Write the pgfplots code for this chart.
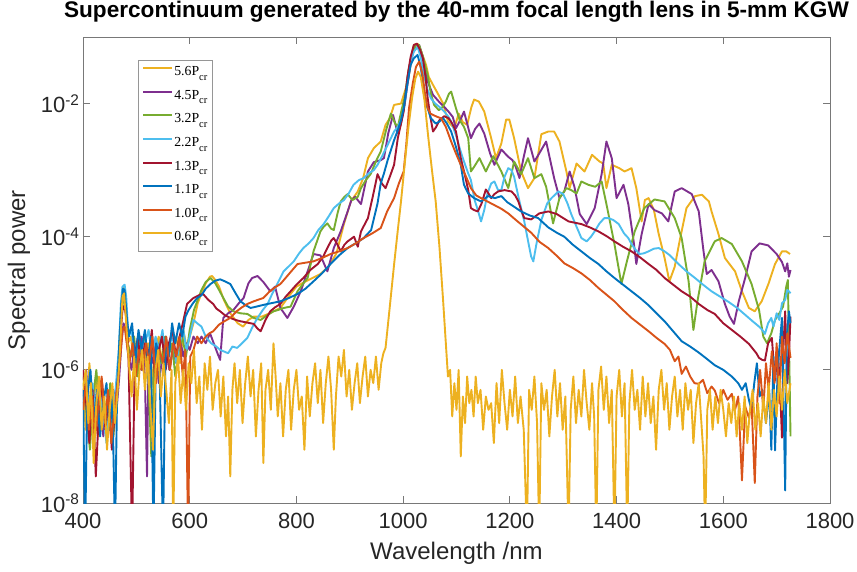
\documentclass[border=0pt]{standalone}
\usepackage{fontspec}
\setmainfont{Liberation Sans}
\newfontfamily\legendfont{Liberation Serif}
\usepackage{pgfplots}
\pgfplotsset{compat=1.18}
\definecolor{cA}{RGB}{237,177,32}
\definecolor{cB}{RGB}{126,47,142}
\definecolor{cC}{RGB}{119,172,48}
\definecolor{cD}{RGB}{77,190,238}
\definecolor{cE}{RGB}{162,20,47}
\definecolor{cF}{RGB}{0,114,189}
\definecolor{cG}{RGB}{217,83,25}
\definecolor{axc}{RGB}{38,38,38}
\definecolor{boxc}{RGB}{120,120,120}
\newcommand{\Pcr}[1]{#1P\raisebox{-4.5bp}{\fontsize{10.5bp}{11bp}\selectfont cr}}
\begin{document}
\begin{tikzpicture}
\begin{axis}[
  at={(0,0)}, anchor=south west,
  scale only axis, width=747bp, height=466bp,
  xmin=400, xmax=1800, ymin=1e-8, ymax=1e-1, ymode=log,
  xtick={400,600,800,1000,1200,1400,1600,1800},
  xticklabels={400,600,800,1000,1200,1400,1600,1800},
  ytick={1e-8,1e-6,1e-4,1e-2},
  yticklabels={10\textsuperscript{-8},10\textsuperscript{-6},10\textsuperscript{-4},10\textsuperscript{-2}},
  yminorticks=false, xminorticks=false,
  tick align=inside, major tick length=7.5bp,
  xtick pos=both, ytick pos=both,
  axis line style={draw=boxc, line width=0.9bp},
  tick style={draw=boxc, line width=0.9bp},
  tick label style={font=\fontsize{22bp}{26bp}\selectfont, text=axc},
  xticklabel style={yshift=-7bp},
  title={Supercontinuum generated by the 40-mm focal length lens in 5-mm KGW},
  title style={at={(axis description cs:0.5,1)}, anchor=base, yshift=13.5bp, font=\bfseries\fontsize{22.6bp}{26bp}\selectfont},
  xlabel={Wavelength /nm},
  ylabel={Spectral power},
  xlabel style={at={(axis description cs:0.5,-0.1073)}, anchor=center, font=\fontsize{24bp}{28bp}\selectfont, text=axc},
  ylabel style={at={(axis description cs:-0.0857,0.5)}, anchor=center, font=\fontsize{24bp}{28bp}\selectfont, text=axc},
  every axis plot/.append style={line width=1.9bp, line join=round, no markers},
  legend style={at={(axis description cs:0.0736,0.9506)}, anchor=north west,
    draw={rgb,255:red,150;green,150;blue,150}, line width=0.8bp, fill=white,
    font=\legendfont\fontsize{13.8bp}{15bp}\selectfont,
    inner xsep=4bp, inner ysep=1bp, row sep=0pt,
    nodes={inner xsep=1bp, inner ysep=3.3bp, text height=11bp, text depth=6bp}},
  legend cell align=left,
  legend image code/.code={\draw[#1] (0bp,5bp) -- (29bp,5bp);},
]
% 5.6 Pcr
\addplot[cA] table[x=x, y expr={10^(\thisrow{ly})}] {
x ly
400 -6.2
405 -6.9
412 -5.9
418 -6.6
425 -6.1
430 -7.0
437 -6.3
443 -6.8
450 -6.4
456 -6.9
462 -6.5
466 -6.0
470 -5.4
474 -4.80
477 -4.75
480 -5.0
484 -5.6
490 -5.5
496 -6.0
502 -5.7
508 -5.5
515 -6.0
522 -5.6
528 -6.3
535 -5.7
542 -5.5
548 -5.9
555 -5.6
562 -6.0
568 -5.7
575 -5.5
582 -5.9
588 -5.4
595 -5.7
600 -5.5
607 -5.3
615 -5.0
622 -4.85
630 -4.7
638 -4.6
642 -4.59
648 -4.65
655 -4.75
664 -4.95
676 -5.15
690 -5.3
700 -5.35
710 -5.25
720 -5.2
735 -5.2
750 -5.15
770 -5.07
785 -4.9
800 -4.75
815 -4.68
830 -4.62
845 -4.56
860 -4.45
875 -4.25
889 -3.81
902 -3.47
915 -3.32
925 -3.12
934 -2.82
945 -2.67
958 -2.57
967 -2.32
975 -2.22
983 -2.02
996 -2.0
1009 -1.67
1015 -1.35
1020 -1.12
1027 -1.10
1033 -1.2
1043 -1.42
1048 -1.6
1056 -1.72
1065 -1.85
1075 -2.0
1084 -2.27
1090 -2.32
1096 -2.37
1104 -2.15
1112 -2.28
1120 -2.32
1128 -2.05
1133 -1.94
1142 -1.97
1152 -2.12
1165 -2.52
1174 -2.82
1184 -2.6
1193 -2.24
1199 -2.24
1208 -2.52
1221 -3.02
1234 -3.27
1246 -3.12
1259 -2.46
1272 -2.42
1283 -2.42
1293 -2.57
1306 -3.02
1312 -3.27
1325 -2.9
1340 -3.02
1354 -2.77
1368 -2.87
1375 -2.9
1381 -3.27
1391 -2.92
1405 -2.97
1415 -3.02
1428 -2.97
1437 -3.27
1447 -3.77
1453 -3.45
1460 -3.42
1470 -3.6
1479 -3.96
1490 -4.32
1499 -4.67
1509 -4.45
1518 -4.07
1531 -3.57
1547 -3.39
1560 -3.37
1573 -3.47
1578 -3.62
1591 -3.96
1603 -4.32
1622 -4.52
1635 -4.82
1648 -5.07
1659 -5.12
1672 -4.97
1685 -4.7
1697 -4.41
1710 -4.22
1718 -4.22
1725 -4.26
};
\addlegendentry{\Pcr{5.6}}
% 4.5 Pcr
\addplot[cB] table[x=x, y expr={10^(\thisrow{ly})}] {
x ly
400 -6.4
406 -6.0
412 -6.8
419 -6.3
426 -6.7
432 -6.2
438 -7.0
444 -6.5
450 -6.9
457 -6.3
463 -6.6
468 -6.1
472 -5.6
476 -5.3
480 -5.4
485 -5.8
491 -6.0
497 -5.6
503 -5.9
510 -5.5
516 -6.1
520 -7.6
523 -5.7
529 -5.9
536 -5.6
542 -6.2
549 -5.8
555 -5.6
562 -6.0
568 -5.7
575 -5.9
581 -5.5
588 -5.8
594 -5.6
600 -5.7
607 -5.5
615 -5.6
622 -5.5
630 -5.6
638 -5.45
645 -5.6
652 -5.75
657 -5.85
663 -5.22
672 -5.15
682 -5.1
692 -5.0
701 -4.92
710 -4.7
717 -4.62
727 -4.59
738 -4.68
751 -4.82
760 -4.75
770 -5.07
783 -5.22
795 -5.05
808 -4.82
821 -4.52
832 -4.26
845 -4.28
858 -4.52
870 -4.17
883 -3.92
896 -3.62
903 -3.45
910 -3.4
921 -3.51
934 -3.02
945 -2.88
958 -2.85
964 -2.82
972 -2.45
981 -2.17
990 -2.45
996 -2.3
1003 -2.0
1012 -1.5
1018 -1.25
1024 -1.12
1030 -1.12
1037 -1.3
1046 -1.67
1056 -1.87
1067 -1.97
1077 -2.05
1085 -2.12
1093 -2.2
1099 -2.37
1107 -2.25
1114 -2.12
1120 -2.3
1127 -2.52
1135 -2.38
1143 -2.3
1152 -2.45
1163 -2.75
1171 -2.92
1184 -2.69
1197 -2.8
1205 -2.85
1211 -2.95
1218 -3.12
1226 -2.8
1234 -2.52
1246 -2.87
1255 -2.75
1268 -2.57
1283 -3.12
1293 -3.42
1302 -3.32
1312 -3.02
1321 -3.25
1331 -3.66
1344 -3.81
1359 -3.57
1372 -3.06
1381 -2.57
1391 -2.82
1400 -3.42
1413 -3.22
1422 -3.51
1432 -4.07
1437 -4.41
1447 -3.96
1460 -3.51
1471 -3.6
1485 -3.65
1497 -3.77
1509 -3.32
1522 -3.27
1541 -3.36
1554 -3.62
1563 -4.22
1569 -4.56
1578 -4.5
1591 -4.67
1603 -5.01
1612 -5.2
1620 -5.31
1629 -4.97
1641 -4.62
1653 -4.22
1668 -4.1
1684 -4.13
1700 -4.26
1710 -4.38
1716 -4.52
1720 -4.4
1723 -4.6
1726 -4.5
};
\addlegendentry{\Pcr{4.5}}
% 3.2 Pcr
\addplot[cC] table[x=x, y expr={10^(\thisrow{ly})}] {
x ly
400 -6.1
406 -6.6
413 -7.2
419 -6.4
425 -6.0
432 -6.7
438 -6.3
445 -6.9
451 -6.2
457 -7.0
463 -6.4
468 -5.8
472 -5.2
476 -4.9
480 -5.05
484 -5.6
490 -5.8
496 -5.5
502 -6.1
509 -5.7
515 -5.5
522 -6.0
528 -7.3
534 -5.8
541 -5.6
547 -5.9
554 -5.5
560 -5.8
567 -5.6
573 -6.1
580 -5.7
586 -5.5
593 -5.8
600 -5.4
608 -5.1
615 -4.95
622 -4.8
630 -4.68
639 -4.62
648 -4.7
655 -4.8
663 -4.92
672 -5.05
682 -5.12
695 -5.15
708 -5.16
720 -5.22
733 -5.25
745 -5.18
757 -5.12
766 -5.1
776 -5.07
789 -5.05
802 -4.82
813 -4.7
821 -4.62
827 -4.4
832 -4.22
845 -3.92
851 -3.85
858 -3.8
865 -3.88
870 -3.9
877 -3.65
883 -3.47
890 -3.4
896 -3.36
905 -3.45
915 -3.4
921 -3.27
930 -3.15
939 -3.06
950 -2.85
958 -2.72
968 -2.4
977 -2.15
985 -2.3
990 -2.35
997 -2.1
1003 -1.9
1010 -1.5
1017 -1.25
1024 -1.12
1030 -1.12
1037 -1.3
1046 -1.57
1052 -1.85
1058 -2.02
1067 -2.1
1074 -2.05
1080 -1.97
1086 -1.85
1090 -1.82
1099 -2.07
1106 -2.25
1114 -2.35
1122 -2.52
1127 -3.02
1133 -2.95
1143 -2.82
1155 -3.02
1169 -2.79
1184 -3.02
1197 -3.27
1208 -2.87
1221 -3.06
1234 -2.82
1246 -3.12
1259 -3.06
1268 -3.25
1281 -3.8
1293 -3.42
1306 -3.27
1315 -3.3
1325 -3.35
1334 -3.17
1347 -3.22
1360 -3.25
1372 -3.17
1381 -3.51
1396 -4.11
1409 -4.71
1420 -4.35
1434 -3.92
1452 -3.57
1471 -3.44
1490 -3.47
1509 -3.72
1522 -4.02
1535 -4.67
1544 -5.4
1552 -4.95
1565 -4.37
1584 -4.07
1597 -4.02
1616 -4.11
1635 -4.37
1653 -4.71
1667 -5.1
1675 -5.5
1682 -5.6
1690 -5.45
1697 -5.25
1705 -5.15
1712 -5.05
1718 -4.75
1721 -4.65
1724 -6.0
1726 -7.0
};
\addlegendentry{\Pcr{3.2}}
% 2.2 Pcr
\addplot[cD] table[x=x, y expr={10^(\thisrow{ly})}] {
x ly
400 -6.5
406 -6.1
412 -6.7
418 -6.2
425 -6.9
431 -6.3
437 -6.6
444 -7.1
450 -6.5
456 -6.8
462 -6.2
467 -5.7
471 -5.0
474 -4.75
478 -4.72
481 -4.9
485 -5.5
491 -5.4
497 -5.8
503 -5.5
510 -6.0
516 -5.6
523 -5.4
529 -5.8
536 -5.5
542 -5.7
549 -5.4
555 -5.9
562 -5.6
568 -5.5
575 -5.9
581 -5.6
588 -5.4
594 -5.7
600 -5.5
607 -5.25
614 -5.3
622 -5.35
630 -5.5
640 -5.6
650 -5.65
657 -5.7
663 -5.72
672 -5.75
680 -5.65
689 -5.67
698 -5.6
708 -5.52
718 -5.35
727 -5.22
737 -5.1
746 -5.01
755 -4.85
764 -4.71
776 -4.52
785 -4.45
795 -4.37
805 -4.25
813 -4.17
823 -4.1
832 -4.02
841 -3.9
851 -3.81
860 -3.7
870 -3.57
880 -3.5
889 -3.45
898 -3.35
907 -3.22
917 -3.15
926 -3.12
935 -3.05
945 -3.0
952 -2.92
960 -2.8
971 -2.62
983 -2.42
990 -2.35
996 -2.25
1003 -2.0
1009 -1.6
1015 -1.35
1020 -1.22
1027 -1.15
1033 -1.3
1039 -1.57
1046 -1.8
1052 -1.92
1060 -2.0
1068 -2.05
1077 -2.12
1085 -2.2
1090 -2.27
1100 -2.5
1107 -2.7
1114 -2.87
1122 -3.05
1127 -3.15
1134 -3.45
1140 -3.6
1146 -3.77
1152 -3.6
1158 -3.35
1165 -3.2
1171 -3.17
1178 -3.3
1184 -3.3
1190 -3.1
1197 -2.97
1203 -3.0
1208 -3.1
1216 -3.4
1227 -3.77
1235 -4.1
1240 -4.3
1244 -4.37
1250 -4.1
1259 -3.75
1270 -3.5
1278 -3.42
1291 -3.32
1300 -3.36
1308 -3.5
1315 -3.66
1325 -3.85
1334 -4.02
1344 -4.07
1352 -4.0
1359 -3.92
1368 -3.8
1377 -3.72
1385 -3.72
1394 -3.75
1404 -3.81
1414 -3.95
1422 -4.02
1428 -4.11
1436 -4.2
1443 -4.26
1451 -4.25
1460 -4.22
1470 -4.18
1479 -4.17
1490 -4.22
1500 -4.28
1516 -4.41
1531 -4.52
1547 -4.62
1562 -4.72
1578 -4.82
1594 -4.9
1610 -4.98
1626 -5.07
1642 -5.18
1655 -5.27
1667 -5.35
1673 -5.4
1678 -5.46
1684 -5.3
1690 -5.22
1694 -5.35
1700 -5.15
1705 -5.25
1710 -5.0
1716 -4.95
1720 -4.8
1723 -4.82
1726 -4.85
};
\addlegendentry{\Pcr{2.2}}
% 1.3 Pcr
\addplot[cE] table[x=x, y expr={10^(\thisrow{ly})}] {
x ly
400 -6.0
406 -6.5
412 -7.1
418 -6.3
424 -7.6
430 -6.6
436 -6.2
442 -6.9
448 -6.4
454 -7.2
460 -6.6
466 -6.1
470 -5.5
474 -5.1
477 -5.04
481 -5.2
485 -5.7
492 -8.5
497 -5.8
503 -5.5
509 -6.0
516 -5.6
522 -5.9
529 -5.4
535 -6.1
542 -5.7
548 -5.5
555 -6.0
561 -5.6
568 -5.4
574 -5.8
581 -5.5
587 -5.3
595 -5.01
607 -4.92
617 -4.88
625 -4.86
635 -4.95
644 -5.01
650 -5.08
657 -5.12
666 -5.18
676 -5.22
686 -5.25
695 -5.27
708 -5.29
720 -5.31
727 -5.38
733 -5.42
742 -5.25
751 -5.12
760 -5.06
770 -5.01
780 -4.9
789 -4.82
800 -4.72
813 -4.62
826 -4.5
840 -4.41
850 -4.3
858 -4.17
865 -4.06
870 -4.02
877 -4.12
883 -4.22
890 -4.12
896 -4.07
908 -4.0
915 -4.15
921 -3.92
934 -3.72
943 -3.4
952 -3.06
960 -3.2
967 -3.27
975 -3.1
983 -2.92
990 -2.52
996 -2.3
1001 -2.12
1008 -1.6
1014 -1.3
1020 -1.12
1026 -1.1
1032 -1.2
1037 -1.32
1042 -1.6
1046 -1.92
1051 -2.2
1056 -2.42
1062 -2.35
1068 -2.25
1077 -2.19
1085 -2.22
1092 -2.3
1099 -2.42
1108 -2.82
1115 -3.05
1122 -3.3
1127 -3.57
1133 -3.6
1140 -3.62
1147 -3.5
1155 -3.29
1160 -3.35
1165 -3.42
1171 -3.36
1178 -3.32
1190 -3.3
1203 -3.32
1210 -3.38
1216 -3.47
1222 -3.62
1227 -3.72
1240 -3.74
1255 -3.65
1272 -3.62
1288 -3.66
1300 -3.72
1310 -3.77
1322 -3.79
1334 -3.81
1350 -3.86
1366 -3.92
1381 -3.99
1396 -4.07
1412 -4.15
1428 -4.22
1444 -4.31
1460 -4.41
1475 -4.5
1490 -4.62
1506 -4.72
1522 -4.82
1538 -4.9
1554 -5.01
1570 -5.1
1584 -5.16
1600 -5.3
1616 -5.4
1632 -5.5
1648 -5.61
1655 -5.68
1662 -5.75
1667 -5.82
1673 -5.85
1678 -5.86
1684 -5.6
1691 -5.52
1697 -6.16
1702 -5.7
1706 -6.2
1710 -7.02
1713 -5.6
1716 -5.12
1720 -6.2
1723 -5.8
1726 -5.2
};
\addlegendentry{\Pcr{1.3}}
% 1.1 Pcr
\addplot[cF] table[x=x, y expr={10^(\thisrow{ly})}] {
x ly
400 -6.3
404 -8.5
408 -6.4
414 -6.0
420 -6.8
426 -6.3
432 -7.0
438 -6.5
444 -6.2
450 -6.9
455 -6.4
460 -8.5
464 -6.3
468 -5.6
472 -5.0
475 -4.78
478 -4.8
482 -5.2
486 -5.5
492 -5.3
498 -5.9
504 -5.4
510 -5.7
516 -5.4
522 -5.9
527 -5.5
532 -8.5
537 -5.6
543 -5.8
550 -8.5
555 -5.5
561 -5.8
567 -5.3
573 -5.6
580 -5.3
586 -5.5
592 -5.2
598 -5.1
606 -5.0
614 -4.92
622 -4.88
630 -4.78
639 -4.71
648 -4.66
657 -4.64
666 -4.67
676 -4.71
686 -4.85
695 -4.97
705 -5.03
714 -5.07
725 -5.05
735 -5.03
746 -5.01
758 -4.99
770 -4.97
786 -4.92
802 -4.86
817 -4.78
832 -4.67
848 -4.55
864 -4.41
880 -4.28
896 -4.17
911 -4.1
926 -4.02
940 -3.9
952 -3.5
958 -3.2
964 -3.05
971 -2.85
977 -2.7
983 -2.55
990 -2.4
996 -2.25
1001 -2.07
1008 -1.7
1014 -1.42
1020 -1.32
1027 -1.27
1033 -1.45
1039 -1.82
1045 -2.05
1052 -2.22
1061 -2.3
1068 -2.27
1075 -2.22
1082 -2.3
1090 -2.42
1099 -2.65
1108 -2.92
1114 -3.22
1122 -3.35
1133 -3.42
1146 -3.47
1159 -3.39
1172 -3.42
1184 -3.39
1195 -3.48
1208 -3.55
1221 -3.62
1237 -3.68
1253 -3.72
1272 -3.86
1288 -3.94
1302 -4.0
1318 -4.12
1334 -4.22
1350 -4.32
1366 -4.41
1381 -4.52
1396 -4.62
1412 -4.72
1428 -4.82
1444 -4.92
1460 -5.03
1475 -5.15
1490 -5.27
1506 -5.42
1522 -5.57
1538 -5.65
1554 -5.74
1570 -5.84
1584 -5.93
1600 -6.0
1616 -6.1
1628 -6.2
1635 -6.3
1642 -6.2
1648 -6.45
1653 -6.61
1658 -6.2
1663 -5.9
1668 -6.4
1673 -6.3
1680 -6.8
1686 -6.3
1690 -7.2
1694 -5.8
1697 -7.21
1702 -6.0
1706 -5.6
1710 -5.22
1713 -6.5
1716 -7.81
1719 -5.5
1723 -5.12
1726 -5.3
};
\addlegendentry{\Pcr{1.1}}
% 1.0 Pcr
\addplot[cG] table[x=x, y expr={10^(\thisrow{ly})}] {
x ly
400 -6.6
406 -6.2
411 -6.9
417 -6.4
423 -7.0
429 -6.5
435 -6.1
441 -6.8
447 -6.3
453 -7.1
459 -6.6
465 -6.2
470 -5.8
474 -5.4
478 -5.35
482 -5.6
487 -5.9
493 -5.6
499 -6.1
505 -5.7
511 -6.0
518 -5.6
524 -5.9
530 -5.5
537 -6.2
543 -5.7
550 -5.9
556 -5.5
563 -6.0
569 -5.6
575 -5.8
581 -5.5
587 -6.1
592 -5.7
597 -8.5
601 -5.8
607 -5.7
614 -5.5
622 -5.6
630 -5.5
637 -5.45
644 -5.42
655 -5.32
665 -5.27
676 -5.22
688 -5.12
698 -5.06
708 -5.01
720 -4.97
738 -4.92
750 -4.82
760 -4.76
770 -4.71
786 -4.56
802 -4.41
817 -4.39
832 -4.37
848 -4.32
864 -4.26
880 -4.22
896 -4.17
911 -4.1
926 -4.02
942 -3.95
958 -3.87
970 -3.62
983 -3.42
992 -3.2
1001 -3.02
1006 -2.6
1011 -2.07
1018 -1.7
1024 -1.45
1030 -1.37
1036 -1.55
1041 -1.85
1046 -2.07
1051 -2.15
1056 -2.17
1064 -2.2
1071 -2.22
1080 -2.35
1090 -2.57
1099 -2.75
1108 -2.92
1118 -3.1
1127 -3.27
1137 -3.38
1146 -3.42
1165 -3.5
1184 -3.58
1197 -3.65
1210 -3.74
1225 -3.84
1240 -3.94
1256 -4.08
1272 -4.17
1287 -4.28
1302 -4.4
1318 -4.47
1334 -4.55
1350 -4.65
1366 -4.77
1381 -4.87
1396 -4.97
1412 -5.1
1428 -5.22
1444 -5.32
1460 -5.42
1475 -5.52
1490 -5.61
1500 -5.7
1509 -5.87
1516 -5.8
1522 -6.06
1530 -5.95
1538 -6.1
1546 -6.2
1554 -6.21
1562 -6.15
1570 -6.35
1578 -6.25
1584 -6.31
1592 -6.5
1600 -6.3
1608 -6.45
1616 -6.36
1622 -6.6
1628 -6.4
1635 -7.66
1641 -6.55
1648 -6.72
1653 -6.5
1659 -7.7
1664 -6.4
1669 -6.0
1675 -6.6
1680 -5.9
1685 -6.3
1691 -5.72
1696 -6.2
1700 -5.6
1705 -6.5
1710 -5.5
1715 -5.9
1720 -5.45
1726 -5.82
};
\addlegendentry{\Pcr{1.0}}
% 0.6 Pcr
\addplot[cA] table[x=x, y expr={10^(\thisrow{ly})}] {
x ly
400 -6.3
405 -6.0
410 -6.8
415 -6.2
420 -7.4
425 -6.5
430 -6.1
435 -6.9
440 -6.4
445 -7.2
450 -6.6
455 -6.2
460 -6.8
465 -6.3
470 -5.6
474 -4.9
477 -4.85
481 -5.3
486 -5.9
491 -6.4
496 -5.8
501 -6.6
506 -6.0
511 -5.7
516 -6.3
521 -5.8
526 -6.5
531 -7.2
536 -6.0
541 -5.7
546 -6.4
551 -5.9
556 -6.3
561 -6.8
566 -6.0
569 -8.5
573 -6.2
578 -5.8
583 -6.5
588 -6.0
593 -6.6
598 -5.9
603 -6.2
608 -5.7
613 -6.5
618 -6.1
623 -6.9
628 -5.9
633 -6.3
638 -5.8
643 -6.6
648 -6.2
653 -6.0
658 -6.7
663 -6.1
668 -7.0
672 -6.4
676 -7.6
680 -6.3
684 -5.9
689 -6.5
694 -6.0
699 -6.8
704 -6.2
709 -5.8
714 -6.4
719 -6.0
724 -7.0
729 -6.3
734 -5.9
738 -7.4
742 -6.3
747 -6.0
752 -6.6
757 -5.6
761 -6.1
765 -6.7
770 -6.2
775 -7.0
780 -6.3
785 -6.0
790 -6.9
795 -6.3
800 -6.0
805 -6.6
810 -6.4
815 -7.2
820 -6.1
825 -6.7
830 -6.2
835 -5.9
840 -6.5
845 -6.0
850 -6.8
855 -6.2
860 -5.8
865 -6.3
870 -7.2
874 -6.4
879 -5.8
884 -6.1
889 -5.7
894 -6.4
899 -6.0
904 -6.6
909 -6.2
914 -5.9
919 -6.5
924 -6.1
929 -5.8
934 -6.4
939 -6.0
944 -6.2
949 -5.8
954 -6.3
959 -5.9
963 -5.75
967 -5.67
975 -5.05
983 -4.42
990 -3.9
996 -3.47
1003 -2.9
1010 -2.35
1017 -1.9
1023 -1.62
1028 -1.52
1033 -1.6
1040 -1.95
1047 -2.5
1054 -3.0
1061 -3.47
1068 -4.15
1075 -4.97
1080 -5.6
1084 -6.1
1088 -6.0
1092 -6.7
1096 -6.2
1100 -6.6
1104 -6.0
1108 -7.3
1112 -6.4
1116 -6.8
1120 -6.1
1124 -6.5
1128 -6.3
1132 -6.7
1136 -6.1
1140 -6.5
1145 -6.3
1150 -6.9
1155 -6.4
1160 -6.6
1165 -6.5
1170 -7.1
1175 -6.2
1180 -6.8
1185 -6.0
1190 -6.5
1195 -6.9
1200 -6.3
1205 -6.7
1210 -6.1
1215 -6.8
1220 -6.4
1226 -6.9
1232 -8.5
1236 -6.3
1241 -6.6
1246 -6.1
1251 -6.8
1255 -8.5
1259 -6.2
1264 -6.6
1269 -6.3
1274 -7.0
1279 -6.4
1284 -6.0
1289 -6.7
1294 -6.2
1299 -6.9
1304 -6.4
1310 -8.5
1314 -6.6
1319 -6.1
1324 -6.8
1329 -6.3
1334 -6.7
1339 -6.0
1344 -6.5
1349 -6.9
1354 -6.2
1358 -6.7
1362 -8.5
1366 -6.3
1371 -5.95
1376 -6.6
1381 -6.1
1386 -6.8
1391 -6.3
1396 -8.5
1400 -6.4
1405 -6.0
1410 -6.7
1415 -6.2
1420 -8.5
1424 -6.5
1429 -6.0
1434 -6.6
1439 -6.3
1444 -6.9
1449 -6.1
1454 -6.7
1459 -6.2
1464 -6.8
1469 -6.4
1474 -7.2
1479 -6.3
1484 -6.0
1489 -6.6
1494 -6.2
1499 -6.9
1504 -6.4
1509 -6.1
1514 -6.7
1519 -6.3
1524 -6.9
1529 -6.2
1534 -6.6
1539 -6.3
1544 -7.1
1549 -6.5
1554 -6.2
1559 -6.8
1563 -7.3
1566 -8.5
1570 -6.6
1575 -6.3
1580 -6.9
1585 -6.4
1590 -6.8
1595 -6.3
1600 -6.6
1605 -7.0
1610 -6.5
1615 -6.8
1620 -6.4
1625 -7.0
1630 -6.5
1635 -6.9
1640 -6.4
1645 -7.1
1650 -6.6
1655 -6.3
1660 -6.9
1665 -6.5
1670 -7.0
1675 -6.4
1680 -6.8
1685 -6.2
1690 -6.9
1695 -6.3
1700 -6.7
1705 -6.1
1710 -6.6
1715 -6.0
1720 -6.5
1726 -6.2
};
\addlegendentry{\Pcr{0.6}}
\end{axis}
\pgfresetboundingbox
\path[use as bounding box] (-83bp,-69bp) rectangle (774bp,503bp);
\end{tikzpicture}
\end{document}
